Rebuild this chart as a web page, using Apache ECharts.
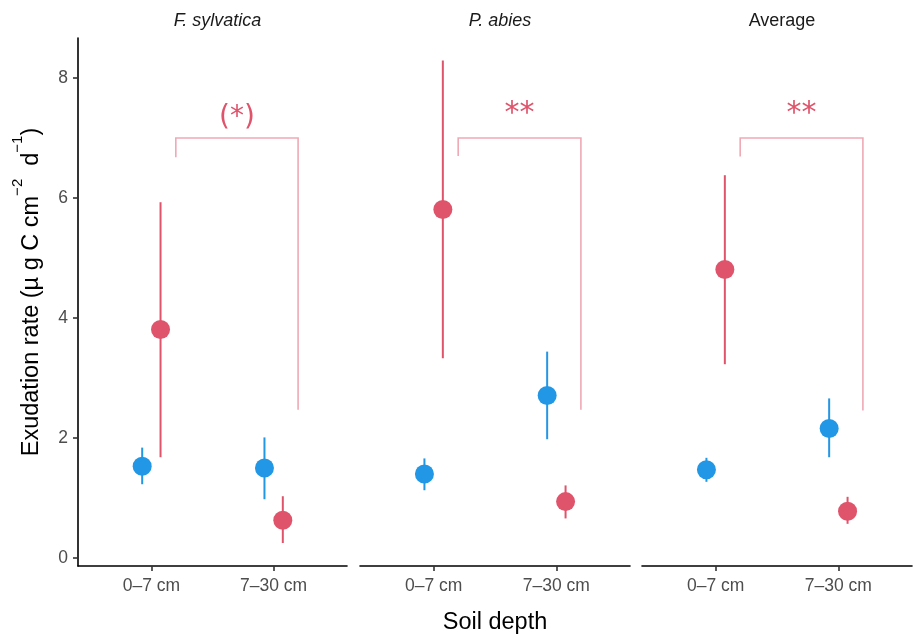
<!DOCTYPE html>
<html>
<head>
<meta charset="utf-8">
<script src="https://cdn.jsdelivr.net/npm/echarts@6/dist/echarts.min.js"></script>
<style>html,body{margin:0;padding:0;background:#fff}#c{width:917px;height:636px}</style>
</head>
<body>
<div id="c"></div>
<script>
// ---- data ----
const categories = ['0–7 cm', '7–30 cm'];
const panels = ['F. sylvatica', 'P. abies', 'Average'];
const yTicks = [0, 2, 4, 6, 8];
// blue group (per panel: [0–7 cm, 7–30 cm])
const blueMean = [[1.53, 1.50], [1.40, 2.71], [1.47, 2.16]];
const blueLow  = [[1.23, 0.98], [1.13, 1.98], [1.27, 1.68]];
const blueHigh = [[1.84, 2.01], [1.66, 3.44], [1.67, 2.66]];
// red group
const redMean = [[3.81, 0.63], [5.81, 0.94], [4.81, 0.78]];
const redLow  = [[1.68, 0.25], [3.33, 0.66], [3.23, 0.57]];
const redHigh = [[5.93, 1.03], [8.29, 1.21], [6.38, 1.02]];
// significance brackets
const bracketTop = [7.0, 7.0, 7.0];
const bracketLeftEnd = [6.68, 6.70, 6.69];
const bracketRightEnd = [2.47, 2.47, 2.46];
const sigLabels = ['(*)', '**', '**'];

// ---- styling / layout ----
const RED = '#DF536B', BLUE = '#2297E6', PINK = '#EFA9B5';
const FONT = 'Liberation Sans, Arial, Helvetica, sans-serif';
const DODGE = 0.075, BR_OFF = 0.2;
const gridLefts = [78, 360, 642], gridWidths = [269, 270, 270];

const chart = echarts.init(document.getElementById('c'), null, {renderer: 'canvas'});

const grids = [], xAxes = [], yAxes = [], series = [], titles = [];
panels.forEach((p, i) => {
  grids.push({left: gridLefts[i], width: gridWidths[i], top: 38, height: 528,
    containLabel: false, outerBoundsMode: 'none'});
  xAxes.push({
    type: 'value', gridIndex: i, min: 0.4, max: 2.6,
    splitLine: {show: false},
    axisLine: {show: true, onZero: false, lineStyle: {color: '#000', width: 1.6}},
    axisTick: {show: true, customValues: [1, 2], length: 5, lineStyle: {color: '#333', width: 1.6}},
    axisLabel: {customValues: [1, 2], formatter: v => categories[Math.round(v) - 1] || '',
      color: '#4D4D4D', fontSize: 17.5, fontFamily: FONT, margin: 11},
    name: i === 1 ? 'Soil depth' : '', nameLocation: 'middle', nameGap: 45,
    nameTextStyle: {color: '#000', fontSize: 23.5, fontFamily: FONT}
  });
  yAxes.push({
    type: 'value', gridIndex: i, min: -0.133, max: 8.667,
    show: i === 0,
    splitLine: {show: false},
    axisLine: {show: true, onZero: false, lineStyle: {color: '#000', width: 1.6}},
    axisTick: {show: true, customValues: yTicks, length: 5, lineStyle: {color: '#333', width: 1.6}},
    axisLabel: {customValues: yTicks, color: '#4D4D4D', fontSize: 17.5, fontFamily: FONT, margin: 10},
    name: i === 0 ? '{a|Exudation rate (µ g C cm}{s|−2}{a|  d}{s|−1}{a|)}' : '',
    nameLocation: 'middle', nameRotate: 90, nameGap: 34,
    nameTextStyle: {fontFamily: FONT, color: '#000', padding: [0, 0, 0, 20], rich: {
      a: {fontSize: 23.5, fontFamily: FONT, color: '#000', lineHeight: 34, verticalAlign: 'bottom'},
      s: {fontSize: 15, fontFamily: FONT, color: '#000', lineHeight: 34, verticalAlign: 'top'}
    }}
  });
  titles.push({
    text: p, left: gridLefts[i] + gridWidths[i] / 2, top: 7, textAlign: 'center',
    textStyle: {fontSize: 18, fontWeight: 'normal', fontStyle: i < 2 ? 'italic' : 'normal',
      color: '#1A1A1A', fontFamily: FONT}
  });

  // error bars
  const ebData = [];
  categories.forEach((c, j) => {
    ebData.push([j + 1 - DODGE, blueLow[i][j], blueHigh[i][j], 0]);
    ebData.push([j + 1 + DODGE, redLow[i][j], redHigh[i][j], 1]);
  });
  series.push({
    type: 'custom', xAxisIndex: i, yAxisIndex: i, data: ebData, silent: true,
    encode: {x: 0, y: [1, 2]},
    renderItem: (params, api) => {
      const x = api.value(0);
      const p1 = api.coord([x, api.value(1)]);
      const p2 = api.coord([x, api.value(2)]);
      return {type: 'line', shape: {x1: p1[0], y1: p1[1], x2: p2[0], y2: p2[1]},
        style: {stroke: api.value(3) === 0 ? BLUE : RED, lineWidth: 2}};
    }
  });
  series.push({
    type: 'scatter', xAxisIndex: i, yAxisIndex: i, symbolSize: 19, silent: true,
    itemStyle: {color: BLUE, opacity: 1},
    data: categories.map((c, j) => [j + 1 - DODGE, blueMean[i][j]])
  });
  series.push({
    type: 'scatter', xAxisIndex: i, yAxisIndex: i, symbolSize: 19, silent: true,
    itemStyle: {color: RED, opacity: 1},
    data: categories.map((c, j) => [j + 1 + DODGE, redMean[i][j]])
  });
  // bracket
  series.push({
    type: 'custom', xAxisIndex: i, yAxisIndex: i, silent: true,
    data: [[1 + BR_OFF, 2 + BR_OFF, bracketTop[i], bracketLeftEnd[i], bracketRightEnd[i]]],
    renderItem: (params, api) => {
      const a = api.coord([api.value(0), api.value(3)]);
      const b = api.coord([api.value(0), api.value(2)]);
      const c = api.coord([api.value(1), api.value(2)]);
      const d = api.coord([api.value(1), api.value(4)]);
      const paren = sigLabels[i].indexOf('(') >= 0;
      return {type: 'group', children: [
        {type: 'polyline', shape: {points: [a, b, c, d]},
          style: {stroke: PINK, lineWidth: 1.6, fill: 'none'}},
        {type: 'text', x: (b[0] + c[0]) / 2, y: paren ? b[1] - 6 : b[1] - 9,
          style: {text: sigLabels[i], fill: RED, fontSize: paren ? 28 : 30,
            fontFamily: 'DejaVu Sans, sans-serif', align: 'center', verticalAlign: 'bottom'}}
      ]};
    }
  });
});

chart.setOption({
  animation: false,
  backgroundColor: '#fff',
  title: titles,
  grid: grids, xAxis: xAxes, yAxis: yAxes, series: series
});
</script>
</body>
</html>
